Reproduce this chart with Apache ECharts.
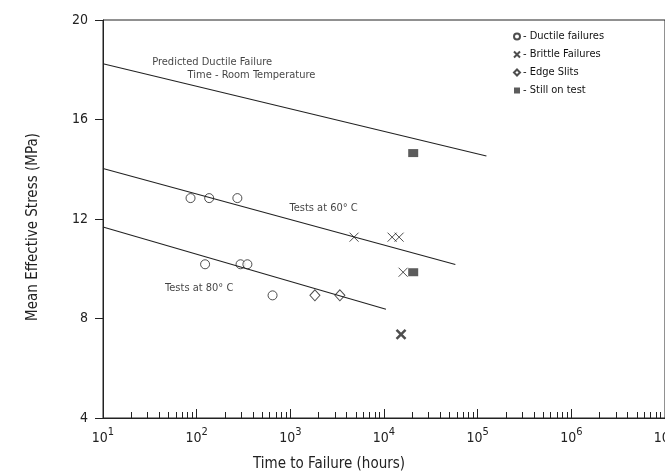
<!DOCTYPE html>
<html>
<head>
<meta charset="utf-8">
<script src="https://cdn.jsdelivr.net/npm/echarts@6/dist/echarts.min.js"></script>
<style>
  html, body { margin: 0; padding: 0; background: #fff; }
  #chart { width: 665px; height: 472px; }
</style>
</head>
<body>
<div id="chart"></div>
<script>
// points: [hours, MPa]
var ductile = [[86, 12.84], [136, 12.84], [272, 12.84], [123, 10.18], [294, 10.18], [348, 10.18], [646, 8.93]];
var brittle = [[4790, 11.27], [12200, 11.27], [14500, 11.27], [16000, 9.86]];
var brittleBold = [[15200, 7.36]];
var edgeSlits = [[1830, 8.93], [3380, 8.93]];
var stillOnTest = [[20500, 14.65], [20500, 9.86]];

// fitted lines
var roomTempLine = [[10, 18.24], [124000, 14.53]];
var line60 = [[10, 14.03], [57800, 10.17]];
var line80 = [[10, 11.68], [10500, 8.37]];

// text notes, anchored at their left end
var notes = [
  [33.5, 18.3, 'Predicted Ductile Failure'],
  [80, 17.78, 'Time - Room Temperature'],
  [980, 12.42, 'Tests at 60° C'],
  [46, 9.23, 'Tests at 80° C']
];

var legendNames = ['Ductile failures', 'Brittle Failures', 'Edge Slits', 'Still on test'];
var xDecades = [10, 100, 1000, 10000, 100000, 1000000, 10000000];
var yMin = 4, yMax = 20, yStep = 4;

var minorTicks = [];
for (var d = 0; d < xDecades.length - 1; d++) {
  for (var k = 2; k <= 9; k++) {
    minorTicks.push(xDecades[d] * k);
  }
}

var FONT = '"Liberation Sans Narrow", "DejaVu Sans Condensed", "Liberation Sans", sans-serif';
var INK = '#222';

var myChart = echarts.init(document.getElementById('chart'));

var option = {
  backgroundColor: '#fff',
  animation: false,
  textStyle: { fontFamily: FONT, color: INK },
  grid: {
    left: 103, right: 0, top: 20, bottom: 54,
    outerBoundsMode: 'none',
    containLabel: false,
    show: true, borderColor: INK, borderWidth: 1
  },
  legend: {
    orient: 'vertical',
    left: 508, top: 25,
    itemWidth: 6, itemHeight: 6,
    itemGap: 5,
    data: legendNames,
    formatter: function (name) { return '- ' + name; },
    textStyle: { fontFamily: FONT, fontSize: 11, color: '#111', lineHeight: 13, padding: [0, 0, 0, -2] }
  },
  xAxis: [{
    type: 'log',
    logBase: 10,
    min: 10,
    max: 10000000,
    name: 'Time to Failure (hours)',
    nameLocation: 'middle',
    nameGap: 39,
    nameTextStyle: { fontFamily: FONT, fontSize: 15, color: INK, padding: [0, 110, 0, 0] },
    axisLine: { lineStyle: { color: INK, width: 1 } },
    axisTick: { inside: true, length: 9, customValues: xDecades, lineStyle: { color: INK } },
    splitLine: { show: false },
    axisLabel: {
      customValues: xDecades,
      margin: 9,
      color: INK,
      fontFamily: FONT,
      fontSize: 14,
      formatter: function (v) {
        return '10{s|' + Math.round(Math.log10(v)) + '}';
      },
      rich: {
        s: { fontFamily: FONT, fontSize: 11, color: INK, padding: [0, 0, 12, 0] }
      }
    }
  }, {
    type: 'log',
    logBase: 10,
    min: 10,
    max: 10000000,
    position: 'bottom',
    axisLine: { show: false },
    axisTick: { inside: true, length: 6, customValues: minorTicks, lineStyle: { color: INK } },
    axisLabel: { show: false },
    splitLine: { show: false }
  }],
  yAxis: {
    type: 'value',
    min: yMin,
    max: yMax,
    interval: yStep,
    name: 'Mean Effective Stress (MPa)',
    nameLocation: 'middle',
    nameRotate: 90,
    nameGap: 62,
    nameTextStyle: { fontFamily: FONT, fontSize: 15, color: INK, padding: [0, 16, 0, 0] },
    axisLine: { show: true, lineStyle: { color: INK, width: 1 } },
    axisTick: { show: true, length: 8, lineStyle: { color: INK } },
    splitLine: { show: false },
    axisLabel: { margin: 15, color: INK, fontFamily: FONT, fontSize: 14 }
  },
  series: [
    {
      type: 'line', data: roomTempLine, symbol: 'none', silent: true,
      lineStyle: { color: INK, width: 1.1 }
    },
    {
      type: 'line', data: line60, symbol: 'none', silent: true,
      lineStyle: { color: INK, width: 1.1 }
    },
    {
      type: 'line', data: line80, symbol: 'none', silent: true,
      lineStyle: { color: INK, width: 1.1 }
    },
    {
      name: 'Ductile failures', type: 'scatter', data: ductile,
      symbol: 'circle', symbolSize: 9,
      itemStyle: { color: '#fff', borderColor: INK, borderWidth: 1 }
    },
    {
      name: 'Brittle Failures', type: 'scatter', data: brittle,
      symbol: 'path://M0,0L10,10M10,0L0,10', symbolSize: 9,
      itemStyle: { color: 'transparent', borderColor: INK, borderWidth: 1 }
    },
    {
      name: 'Brittle Failures', type: 'scatter', data: brittleBold,
      symbol: 'path://M0,0L10,10M10,0L0,10', symbolSize: 9,
      itemStyle: { color: 'transparent', borderColor: INK, borderWidth: 2.5 }
    },
    {
      name: 'Edge Slits', type: 'scatter', data: edgeSlits,
      symbol: 'diamond', symbolSize: [10, 11],
      itemStyle: { color: '#fff', borderColor: INK, borderWidth: 1 }
    },
    {
      name: 'Still on test', type: 'scatter', data: stillOnTest,
      symbol: 'rect', symbolSize: [10, 8],
      itemStyle: { color: '#333' }
    },
    {
      type: 'scatter', silent: true, symbolSize: 0,
      data: notes.map(function (n) { return [n[0], n[1]]; }),
      label: {
        show: true, position: 'right', distance: 0,
        fontFamily: FONT, fontSize: 11, color: '#111',
        formatter: function (p) { return notes[p.dataIndex][2]; }
      }
    }
  ]
};

myChart.setOption(option);
</script>
</body>
</html>
